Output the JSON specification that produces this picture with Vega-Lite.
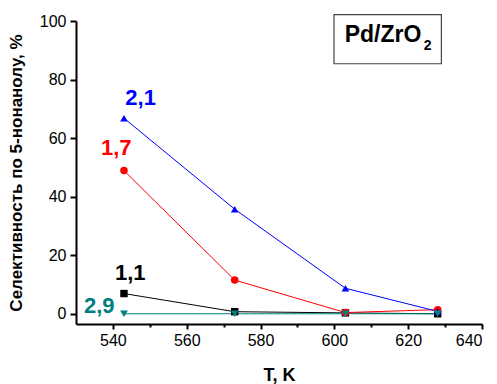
{
  "$schema": "https://vega.github.io/schema/vega-lite/v6.json",
  "width": 406,
  "height": 303,
  "autosize": {"type": "none"},
  "padding": {"left": 76, "top": 21, "right": 15, "bottom": 60},
  "background": "white",
  "config": {
    "view": {"stroke": null},
    "font": "Liberation Sans",
    "axis": {
      "domainColor": "black", "domainWidth": 2, "tickColor": "black", "tickWidth": 2,
      "labelFont": "Liberation Sans", "labelFontSize": 16, "labelColor": "black",
      "titleFont": "Liberation Sans", "titleFontWeight": "bold", "titleColor": "black",
      "grid": false, "labelOverlap": false
    }
  },
  "datasets": {
    "series": [
      {"series": "1,1", "T": 543, "S": 6.9},
      {"series": "1,1", "T": 573, "S": 0.7},
      {"series": "1,1", "T": 603, "S": 0.3},
      {"series": "1,1", "T": 628, "S": 0},
      {"series": "1,7", "T": 543, "S": 48.9},
      {"series": "1,7", "T": 573, "S": 11.5},
      {"series": "1,7", "T": 603, "S": 0.4},
      {"series": "1,7", "T": 628, "S": 1.4},
      {"series": "2,1", "T": 543, "S": 66.8},
      {"series": "2,1", "T": 573, "S": 35.7},
      {"series": "2,1", "T": 603, "S": 8.7},
      {"series": "2,1", "T": 628, "S": 0.8},
      {"series": "2,9", "T": 543, "S": 0},
      {"series": "2,9", "T": 573, "S": 0},
      {"series": "2,9", "T": 603, "S": 0},
      {"series": "2,9", "T": 628, "S": 0}
    ],
    "labels": [
      {"series": "2,1", "T": 547.5, "S": 71.2},
      {"series": "1,7", "T": 540.9, "S": 54.1},
      {"series": "1,1", "T": 544.7, "S": 11.6},
      {"series": "2,9", "T": 536.3, "S": 0.1}
    ],
    "box": [
      {"x1": 599.9, "x2": 629.0, "y1": 85.4, "y2": 102.2}
    ],
    "boxtext": [
      {"txt": "Pd/ZrO", "T": 602.8, "S": 92.8, "sz": 23},
      {"txt": "2", "T": 624.2, "S": 90.0, "sz": 14}
    ]
  },
  "layer": [
    {
      "data": {"name": "series"},
      "mark": {"type": "line", "strokeWidth": 1},
      "encoding": {
        "x": {"field": "T", "type": "quantitative",
          "scale": {"domain": [530, 640], "nice": false, "zero": false},
          "axis": {"orient": "bottom", "values": [540, 550, 560, 570, 580, 590, 600, 610, 620, 630, 640],
            "tickSize": {"condition": {"test": "datum.value % 20 === 0", "value": 5}, "value": 3},
            "labelExpr": "datum.value % 20 === 0 ? datum.label : ''",
            "labelPadding": 3, "title": "T, K", "titleFontSize": 18, "titlePadding": 18}},
        "y": {"field": "S", "type": "quantitative",
          "scale": {"domain": [-3.5, 100], "nice": false, "zero": false},
          "axis": {"orient": "left", "values": [0, 10, 20, 30, 40, 50, 60, 70, 80, 90, 100],
            "tickSize": {"condition": {"test": "datum.value % 20 === 0", "value": 6}, "value": 3},
            "labelExpr": "datum.value % 20 === 0 ? datum.label : ''",
            "labelPadding": 4, "title": "Селективность по 5-нонанолу, %", "titleFontSize": 17, "titlePadding": 14}},
        "color": {"field": "series", "type": "nominal",
          "scale": {"domain": ["1,1", "1,7", "2,1", "2,9"], "range": ["#000000", "#ff0000", "#0000ff", "#008080"]},
          "legend": null},
        "order": {"field": "T", "type": "quantitative"}
      }
    },
    {
      "data": {"name": "series"},
      "mark": {"type": "point", "filled": true, "opacity": 1},
      "encoding": {
        "x": {"field": "T", "type": "quantitative"},
        "y": {"field": "S", "type": "quantitative"},
        "color": {"field": "series", "type": "nominal", "legend": null},
        "shape": {"field": "series", "type": "nominal",
          "scale": {"domain": ["1,1", "1,7", "2,1", "2,9"], "range": ["square", "circle", "triangle-up", "triangle-down"]},
          "legend": null},
        "size": {"field": "series", "type": "nominal",
          "scale": {"domain": ["1,1", "1,7", "2,1", "2,9"], "range": [55, 60, 130, 130]},
          "legend": null}
      }
    },
    {
      "data": {"name": "labels"},
      "mark": {"type": "text", "fontSize": 22, "fontWeight": "bold", "align": "center", "baseline": "alphabetic"},
      "encoding": {
        "x": {"field": "T", "type": "quantitative"},
        "y": {"field": "S", "type": "quantitative"},
        "text": {"field": "series"},
        "color": {"field": "series", "type": "nominal", "legend": null}
      }
    },
    {
      "data": {"name": "box"},
      "mark": {"type": "rect", "fill": "white", "stroke": "#444444", "strokeWidth": 1.2},
      "encoding": {
        "x": {"field": "x1", "type": "quantitative"},
        "x2": {"field": "x2"},
        "y": {"field": "y1", "type": "quantitative"},
        "y2": {"field": "y2"}
      }
    },
    {
      "data": {"name": "boxtext"},
      "mark": {"type": "text", "fontWeight": "bold", "align": "left", "baseline": "alphabetic", "color": "black"},
      "encoding": {
        "x": {"field": "T", "type": "quantitative"},
        "y": {"field": "S", "type": "quantitative"},
        "text": {"field": "txt"},
        "size": {"field": "sz", "type": "quantitative", "scale": null}
      }
    }
  ]
}
